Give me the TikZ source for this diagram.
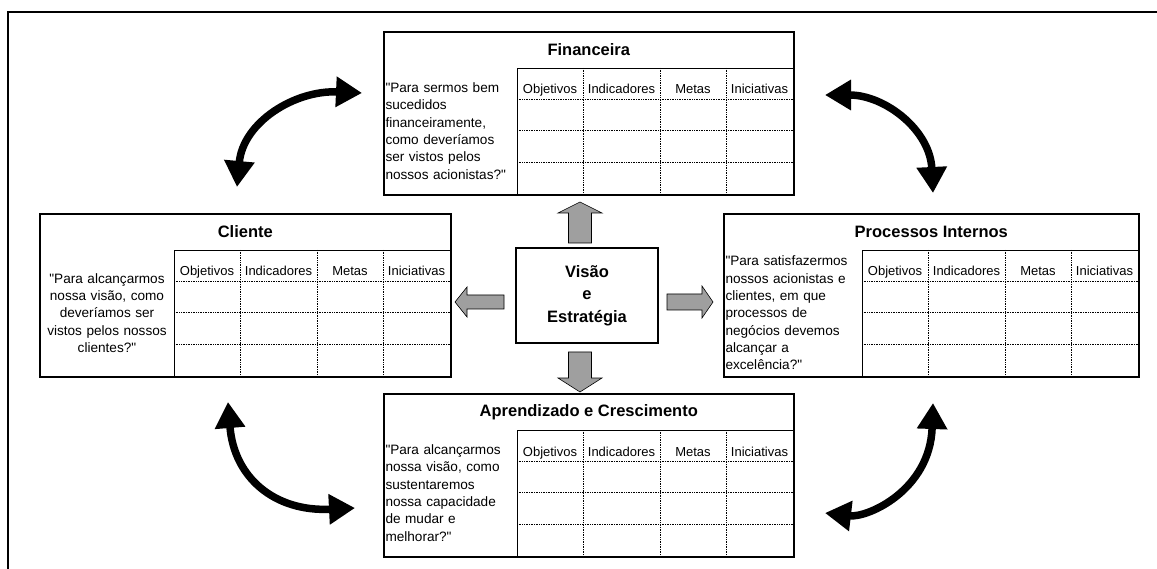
\documentclass[tikz,border=0pt]{standalone}
\usepackage{fontspec}
\setmainfont{Liberation Sans}
\usetikzlibrary{arrows.meta,positioning}

\tikzset{
  card/.style={draw, line width=1.6pt, minimum height=163pt, inner sep=0pt, anchor=north west},
  cardtitle/.style={inner sep=0pt, font=\fontsize{16.5}{20}\selectfont\bfseries},
  question/.style={inner sep=0pt, text width=131pt, font=\fontsize{13.6}{17.3}\selectfont},
  header/.style={inner sep=0pt, anchor=base, font=\fontsize{13}{15}\selectfont},
  tabline/.style={line width=0.8pt},
  gridline/.style={densely dotted, line width=0.7pt},
  blockarrow/.style={draw=black, line width=0.6pt, fill=gray!75},
  swing/.style={line width=7.5pt, {Triangle[length=26pt,width=29pt]}-{Triangle[length=26pt,width=29pt]}},
}

% straight double quote
\newcommand{\qd}{\textquotedbl}

% one perspective box: #1 name, #2 left, #3 top, #4 right, #5 title, #6 question, #7 alignment
\newcommand{\perspective}[7]{%
  \node[card, minimum width={#4-#2}] (#1) at (#2,#3) {};
  \node[cardtitle] (#1-title) at ([yshift=-19pt]#1.north) {#5};
  % table corners
  \coordinate (#1-tl) at ({#4-276},{#3+37});
  \coordinate (#1-tr) at (#4,{#3+37});
  \coordinate (#1-bl) at ({#4-276},{#3+163});
  \draw[tabline] (#1-bl) -- (#1-tl) -- (#1-tr);
  \foreach \cx in {66,143,209}
    \draw[gridline] ([xshift=\cx pt]#1-tl) -- ([xshift=\cx pt]#1-bl);
  \foreach \ry in {31,62,94}
    \draw[gridline] ([yshift=-\ry pt]#1-tl) -- ([yshift=-\ry pt]#1-tr);
  \foreach \hd/\hx in {Objetivos/33,Indicadores/104.5,Metas/176,Iniciativas/242.5}
    \node[header] (#1-\hd) at ([xshift=\hx pt,yshift=-26pt]#1-tl) {\hd};
  \node[question, align=#7] (#1-q) at ({#2+68},{#3+100}) {#6};
}

\begin{document}
\begin{tikzpicture}[x=1pt, y=-1pt]
    % Page and frame
    \fill[white] (0,0) rectangle (1157,569);
    \useasboundingbox (0,0) rectangle (1157,569);
    \draw[line width=2pt] (1157,12) -- (8,12) -- (8,569);

    % 1. The four perspectives
    \perspective{fin}{383}{31}{793}{Financeira}
      {\qd Para sermos bem\\sucedidos\\financeiramente,\\como deveríamos\\ser vistos pelos\\nossos acionistas?\qd}{left}
    \perspective{cli}{39}{213}{450}{Cliente}
      {\qd Para alcançarmos\\nossa visão, como\\deveríamos ser\\vistos pelos nossos\\clientes?\qd}{center}
    \perspective{proc}{723}{213}{1138}{Processos Internos}
      {\qd Para satisfazermos\\nossos acionistas e\\clientes, em que\\processos de\\negócios devemos\\alcançar a\\excelência?\qd}{left}
    \perspective{apr}{383}{393}{793}{Aprendizado e Crescimento}
      {\qd Para alcançarmos\\nossa visão, como\\sustentaremos\\nossa capacidade\\de mudar e\\melhorar?\qd}{left}

    % 2. Vision in the middle
    \node[draw, line width=1.6pt, minimum width=142pt, minimum height=95pt, align=center,
          font=\fontsize{16.5}{22.5}\selectfont\bfseries] (visao) at (587,295.5)
          {Visão\\e\\Estratégia};

    % 3. Gray block arrows out of the middle
    \draw[blockarrow] (568.5,243) -- (568.5,213) -- (558,213) -- (580,202)
        -- (602,213) -- (591.5,213) -- (591.5,243) -- cycle;           % up
    \draw[blockarrow] (568.5,352) -- (591.5,352) -- (591.5,378) -- (602,378)
        -- (580,392) -- (558,378) -- (568.5,378) -- cycle;             % down
    \draw[blockarrow] (504,295) -- (467,295) -- (467,287) -- (455,302)
        -- (467,317) -- (467,309) -- (504,309) -- cycle;               % left
    \draw[blockarrow] (667,294) -- (702,294) -- (702,286) -- (713,302)
        -- (702,318) -- (702,310) -- (667,310) -- cycle;               % right

    % 4. Curved arrows between the perspectives
    \coordinate (cli-up)   at (237,187);
    \coordinate (fin-left) at (362,93);
    \coordinate (fin-right) at (825,95);
    \coordinate (proc-up)  at (933,193);
    \coordinate (cli-down) at (228,402);
    \coordinate (apr-left) at (355,508);
    \coordinate (proc-down) at (933,403);
    \coordinate (apr-right) at (825,513);

    \draw[swing] (cli-up) .. controls (243,122) and (295,90) .. (fin-left);
    \draw[swing] (fin-right) .. controls (885,95) and (930,130) .. (proc-up);
    \draw[swing] (cli-down) .. controls (234,478) and (275,512) .. (apr-left);
    \draw[swing] (proc-down) .. controls (930,490) and (868,518) .. (apr-right);

\end{tikzpicture}
\end{document}
